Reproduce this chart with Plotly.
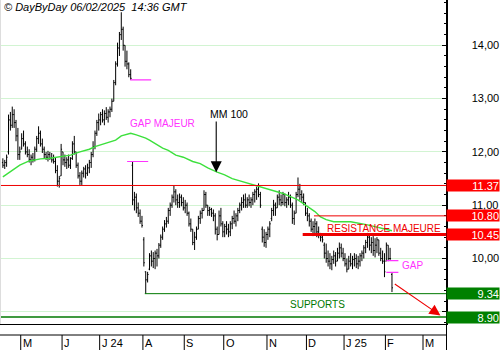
import plotly.graph_objects as go
import pandas as pd

# ---------------- data ----------------
holidays = ["2024-05-01", "2024-12-25", "2024-12-26", "2025-01-01"]
calendar = pd.bdate_range("2024-04-17", "2025-03-31")
calendar = calendar[~calendar.isin(pd.to_datetime(holidays))]

opens = [11.80, 11.75, 11.80, 12.00, 12.60, 12.50, 12.70, 12.55, 12.30, 11.95,
         12.05, 12.25, 12.15, 12.00, 11.95, 11.85, 11.90, 11.85, 12.05, 12.25,
         12.35, 12.15, 12.05, 11.95, 11.90, 11.95, 11.88, 11.85, 11.82, 11.65,
         11.45, 11.55, 12.00, 11.85, 11.80, 11.85, 11.75, 11.88, 12.15, 12.00,
         11.75, 11.55, 11.45, 11.60, 11.68, 11.60, 11.70, 11.80, 11.95, 12.10,
         12.35, 12.55, 12.60, 12.70, 12.60, 12.72, 12.65, 12.75, 12.80, 12.95,
         13.30, 13.65, 13.95, 14.20, 14.30, 14.00, 13.70, 13.65, 13.45, 11.75,
         11.10, 11.15, 10.95, 10.85, 10.70, 10.35, 9.75, 9.60, 9.80, 10.05,
         9.95, 10.00, 10.10, 10.05, 10.25, 10.40, 10.55, 10.65, 10.70, 10.90,
         11.00, 11.15, 11.25, 11.10, 11.05, 11.15, 11.05, 10.95, 11.00, 10.85,
         10.65, 10.55, 10.30, 10.40, 10.55, 10.75, 10.85, 10.90, 11.20, 11.00,
         10.90, 10.92, 10.85, 10.80, 10.55, 10.45, 10.80, 10.65, 10.50, 10.60,
         10.55, 10.50, 10.65, 10.75, 10.70, 10.80, 10.90, 11.00, 11.05, 11.10,
         11.00, 11.10, 11.05, 11.10, 11.20, 11.25, 11.30, 11.20, 10.55, 10.40,
         10.30, 10.45, 10.55, 10.75, 10.90, 11.00, 10.95, 11.15, 11.10, 11.05,
         11.20, 11.05, 11.10, 11.15, 11.00, 10.75, 10.85, 11.20, 11.30, 11.20,
         11.15, 11.05, 10.85, 10.80, 10.70, 10.55, 10.60, 10.65, 10.50, 10.45,
         10.40, 10.25, 10.10, 10.00, 9.95, 9.90, 9.98, 10.05, 9.95, 10.10,
         10.20, 10.10, 10.00, 9.90, 9.80, 9.95, 9.90, 9.98, 10.00, 9.90,
         9.95, 10.05, 10.10, 10.20, 10.30, 10.40, 10.25, 10.30, 10.15, 10.25,
         10.35, 10.10, 10.00, 9.95, 9.95, 10.25, 10.00, 9.70]
highs = [11.88, 11.85, 11.95, 12.70, 12.75, 12.85, 12.80, 12.60, 12.45, 12.10,
         12.35, 12.40, 12.20, 12.10, 12.05, 11.95, 11.98, 12.10, 12.30, 12.48,
         12.40, 12.25, 12.10, 12.00, 12.02, 12.00, 11.98, 11.95, 11.90, 11.75,
         11.55, 12.15, 12.00, 11.95, 11.90, 11.95, 11.90, 12.20, 12.30, 12.00,
         11.80, 11.62, 11.65, 11.72, 11.75, 11.78, 11.85, 12.00, 12.20, 12.40,
         12.60, 12.72, 12.75, 12.80, 12.78, 12.84, 12.80, 12.85, 13.00, 13.35,
         13.70, 14.05, 14.25, 14.62, 14.35, 14.00, 13.90, 13.68, 13.55, 11.82,
         11.25, 11.22, 11.05, 10.92, 10.80, 10.40, 9.76, 9.75, 10.10, 10.15,
         10.12, 10.15, 10.18, 10.29, 10.45, 10.60, 10.72, 10.78, 10.95, 11.05,
         11.20, 11.37, 11.30, 11.20, 11.22, 11.20, 11.15, 11.10, 11.05, 10.88,
         10.75, 10.55, 10.50, 10.60, 10.80, 10.90, 10.95, 11.28, 11.25, 11.00,
         10.97, 10.95, 10.92, 10.85, 10.60, 10.90, 10.95, 10.70, 10.65, 10.70,
         10.65, 10.70, 10.80, 10.90, 10.85, 10.95, 11.05, 11.15, 11.20, 11.22,
         11.15, 11.20, 11.15, 11.25, 11.30, 11.35, 11.41, 11.25, 10.60, 10.55,
         10.50, 10.60, 10.70, 10.95, 11.10, 11.05, 11.20, 11.28, 11.20, 11.25,
         11.22, 11.15, 11.25, 11.20, 11.05, 10.90, 11.25, 11.52, 11.40, 11.28,
         11.22, 11.05, 10.95, 10.85, 10.75, 10.70, 10.75, 10.70, 10.60, 10.48,
         10.45, 10.30, 10.28, 10.15, 10.10, 10.05, 10.15, 10.12, 10.20, 10.30,
         10.28, 10.20, 10.10, 10.00, 10.05, 10.10, 10.05, 10.10, 10.08, 10.05,
         10.10, 10.15, 10.25, 10.35, 10.48, 10.45, 10.40, 10.42, 10.38, 10.40,
         10.35, 10.20, 10.15, 10.10, 10.30, 10.25, 10.20, 9.74]
lows = [11.70, 11.68, 11.72, 11.95, 12.40, 12.45, 12.45, 12.20, 11.85, 11.85,
        12.05, 12.10, 11.95, 11.90, 11.80, 11.75, 11.80, 11.82, 12.00, 12.15,
        12.10, 11.98, 11.88, 11.85, 11.82, 11.85, 11.80, 11.78, 11.60, 11.35,
        11.33, 11.55, 11.75, 11.72, 11.68, 11.70, 11.68, 11.85, 11.95, 11.70,
        11.50, 11.38, 11.38, 11.52, 11.50, 11.55, 11.60, 11.70, 11.90, 12.05,
        12.30, 12.40, 12.50, 12.55, 12.50, 12.60, 12.55, 12.65, 12.75, 12.95,
        13.25, 13.60, 13.80, 14.10, 13.90, 13.60, 13.55, 13.40, 13.35, 11.00,
        10.90, 10.85, 10.78, 10.65, 10.58, 9.85, 9.34, 9.55, 9.78, 9.85,
        9.82, 9.80, 9.85, 10.00, 10.20, 10.35, 10.50, 10.58, 10.65, 10.80,
        10.95, 11.05, 11.00, 10.95, 10.95, 10.98, 10.90, 10.85, 10.80, 10.60,
        10.50, 10.25, 10.16, 10.35, 10.55, 10.65, 10.75, 10.90, 10.95, 10.80,
        10.80, 10.78, 10.70, 10.45, 10.34, 10.45, 10.60, 10.40, 10.40, 10.45,
        10.40, 10.42, 10.55, 10.65, 10.60, 10.70, 10.85, 10.90, 10.95, 10.95,
        10.95, 10.98, 10.95, 11.00, 11.05, 11.10, 11.15, 10.95, 10.30, 10.22,
        10.20, 10.35, 10.40, 10.70, 10.80, 10.80, 10.95, 11.00, 10.98, 11.00,
        10.98, 10.95, 11.00, 10.95, 10.65, 10.63, 10.85, 11.15, 11.10, 11.05,
        11.00, 10.80, 10.70, 10.60, 10.50, 10.42, 10.45, 10.40, 10.38, 10.32,
        10.30, 10.00, 9.92, 9.85, 9.80, 9.78, 9.90, 9.85, 9.95, 10.00,
        10.02, 9.95, 9.85, 9.74, 9.80, 9.85, 9.80, 9.85, 9.82, 9.80,
        9.85, 9.95, 10.00, 10.10, 10.20, 10.15, 10.10, 10.05, 10.02, 10.10,
        10.05, 9.95, 9.90, 9.65, 9.95, 9.95, 9.96, 9.37]
closes = [11.75, 11.80, 11.90, 12.60, 12.50, 12.70, 12.55, 12.30, 11.95, 12.00,
          12.25, 12.15, 12.00, 11.95, 11.85, 11.90, 11.85, 12.05, 12.25, 12.35,
          12.15, 12.05, 11.95, 11.90, 11.95, 11.88, 11.85, 11.82, 11.65, 11.45,
          11.50, 12.05, 11.85, 11.80, 11.85, 11.75, 11.88, 12.15, 12.00, 11.75,
          11.55, 11.45, 11.60, 11.68, 11.60, 11.70, 11.80, 11.95, 12.10, 12.35,
          12.55, 12.60, 12.70, 12.60, 12.72, 12.65, 12.75, 12.80, 12.95, 13.30,
          13.65, 13.95, 14.20, 14.30, 14.00, 13.70, 13.65, 13.45, 13.38, 11.10,
          11.15, 10.95, 10.85, 10.70, 10.62, 9.92, 9.60, 9.70, 10.05, 9.95,
          10.00, 10.10, 10.05, 10.25, 10.40, 10.55, 10.65, 10.70, 10.90, 11.00,
          11.15, 11.25, 11.10, 11.05, 11.15, 11.05, 10.95, 11.00, 10.85, 10.65,
          10.55, 10.30, 10.40, 10.55, 10.75, 10.85, 10.90, 11.20, 11.00, 10.90,
          10.92, 10.85, 10.80, 10.55, 10.45, 10.80, 10.65, 10.50, 10.60, 10.55,
          10.50, 10.65, 10.75, 10.70, 10.80, 10.90, 11.00, 11.05, 11.10, 11.00,
          11.10, 11.05, 11.10, 11.20, 11.25, 11.30, 11.20, 11.00, 10.40, 10.30,
          10.45, 10.55, 10.65, 10.90, 11.00, 10.95, 11.15, 11.10, 11.05, 11.20,
          11.05, 11.10, 11.15, 11.00, 10.75, 10.85, 11.20, 11.30, 11.20, 11.15,
          11.05, 10.85, 10.80, 10.70, 10.55, 10.60, 10.65, 10.50, 10.45, 10.40,
          10.35, 10.10, 10.00, 9.95, 9.90, 9.98, 10.05, 9.95, 10.10, 10.20,
          10.10, 10.00, 9.90, 9.80, 9.95, 9.90, 9.98, 10.00, 9.90, 9.95,
          10.05, 10.10, 10.20, 10.30, 10.40, 10.25, 10.30, 10.15, 10.25, 10.35,
          10.10, 10.00, 9.95, 9.75, 10.25, 10.00, 10.00, 9.45]

# moving average (MM 100) read at selected bars
ma_idx = [0, 4, 9, 14, 20, 25, 30, 36, 41, 46, 49, 55, 60, 63, 68, 71, 76, 78,
          85, 88, 92, 96, 101, 105, 109, 114, 118, 122, 130, 135, 140, 149,
          157, 163, 166, 169, 172, 176, 185, 194, 201, 205, 207]
ma_val = [11.53, 11.63, 11.75, 11.83, 11.87, 11.88, 11.91, 11.94, 12.00, 12.05,
          12.10, 12.16, 12.22, 12.30, 12.35, 12.32, 12.26, 12.22, 12.07, 12.03,
          11.94, 11.90, 11.82, 11.78, 11.70, 11.62, 11.57, 11.50, 11.42, 11.37,
          11.32, 11.22, 11.10, 10.96, 10.88, 10.78, 10.73, 10.69, 10.69, 10.63,
          10.57, 10.53, 10.52]

month_labels = ["M", "J", "J 24", "A", "S", "O", "N", "D", "J 25", "F", "M"]
y_tickvals = [9, 10, 11, 12, 13, 14]
y_ticktext = ["", "10,00", "11,00", "12,00", "13,00", "14,00"]

# levels: value, color, start bar (None = whole width), line width
level_vals = [11.37, 10.80, 10.45, 9.34, 8.90]
level_cols = ["#ee0000", "#ee0000", "#ee0000", "#007800", "#007800"]
level_start = [None, 166, 160, 76, None]
level_width = [1, 1, 3, 1, 1.5]
level_text = ["11.37", "10.80", "10.45", "9.34", "8.90"]

# gap markers (value, start bar, end bar)
gap_vals = [13.35, 11.82, 9.96, 9.74]
gap_from = [67.7, 66.1, 204.0, 204.0]
gap_to = [78.9, 77.3, 210.4, 210.4]

title = "© DayByDay 06/02/2025  14:36 GMT"

# ---------------- figure ----------------
FONT = "Liberation Sans, Arial, sans-serif"
X_RANGE = [-1.52, 236.0]
Y_RANGE = [8.771, 14.85]
XDOM = 446.5 / 500
YBOT = 26 / 350
STRIP = 15 / 350

n = len(closes)
idx = list(range(n))

fig = go.Figure()
fig.add_trace(go.Ohlc(
    x=idx, open=opens, high=highs, low=lows, close=closes,
    increasing=dict(line=dict(color="black", width=1)),
    decreasing=dict(line=dict(color="black", width=1)),
    tickwidth=0.5, hoverinfo="skip", showlegend=False))
fig.add_trace(go.Scatter(
    x=ma_idx, y=ma_val, mode="lines",
    line=dict(color="#3de03d", width=1.4), hoverinfo="skip", showlegend=False))

shapes = []
annotations = []

# level lines and value boxes
for v, c, s, w, t in zip(level_vals, level_cols, level_start, level_width, level_text):
    if s is None:
        shapes.append(dict(type="line", xref="x domain", yref="y", x0=0, x1=1,
                           y0=v, y1=v, line=dict(color=c, width=w), layer="above"))
    else:
        shapes.append(dict(type="line", xref="x", yref="y", x0=s - 0.5, x1=X_RANGE[1],
                           y0=v, y1=v, line=dict(color=c, width=w), layer="above"))
    annotations.append(dict(x=1, xref="paper", y=v, yref="y", xanchor="right",
                            yanchor="middle", text=t, showarrow=False,
                            bgcolor="#ff0000" if c == "#ee0000" else "#008000",
                            font=dict(family=FONT, size=11, color="white"),
                            width=52, height=11, align="right", borderpad=0))

# gap markers
for v, a, b in zip(gap_vals, gap_from, gap_to):
    shapes.append(dict(type="line", xref="x", yref="y", x0=a, x1=b, y0=v, y1=v,
                       line=dict(color="#ff33ff", width=1.2), layer="above"))

# bottom strip lines and right border
shapes.append(dict(type="line", xref="paper", yref="paper", x0=0, x1=XDOM,
                   y0=STRIP, y1=STRIP, line=dict(color="black", width=1)))
shapes.append(dict(type="line", xref="paper", yref="paper", x0=XDOM, x1=XDOM,
                   y0=0, y1=1, line=dict(color="black", width=1)))
shapes.append(dict(type="line", xref="paper", yref="paper", x0=0.001, x1=0.001,
                   y0=YBOT, y1=1, line=dict(color="#dddddd", width=1)))

# month separators and labels
months = calendar.to_period("M")
seps = [i - 0.5 for i in range(1, len(calendar)) if months[i] != months[i - 1]]
for s, lab in zip(seps, month_labels):
    shapes.append(dict(type="line", xref="x", yref="paper", x0=s, x1=s,
                       y0=0, y1=STRIP, line=dict(color="black", width=1)))
    annotations.append(dict(x=s, xref="x", y=7 / 350, yref="paper", text=lab,
                            showarrow=False, xanchor="left", yanchor="middle",
                            xshift=0, font=dict(family=FONT, size=11, color="black")))

# texts
annotations += [
    dict(x=2 / 500, xref="paper", y=1 - 7 / 350, yref="paper", text="<i>" + title + "</i>",
         showarrow=False, xanchor="left", yanchor="middle",
         font=dict(family=FONT, size=11, color="black")),
    dict(x=109.2, y=12.71, text="MM 100", showarrow=False, xanchor="left",
         yanchor="middle", font=dict(family=FONT, size=10.5, color="black")),
    dict(x=113.5, y=11.62, ax=113.5, ay=12.60, axref="x", ayref="y", text="",
         showarrow=True, arrowhead=2, arrowsize=2, arrowwidth=1.1, arrowcolor="black"),
    dict(x=66.6, y=12.54, text="GAP MAJEUR", showarrow=False, xanchor="left",
         yanchor="middle", font=dict(family=FONT, size=10, color="#ff33ff")),
    dict(x=171.5, y=10.57, text="RESISTANCE MAJEURE", showarrow=False, xanchor="left",
         yanchor="middle", font=dict(family=FONT, size=10, color="#ee0000")),
    dict(x=211.0, y=9.86, text="GAP", showarrow=False, xanchor="left",
         yanchor="middle", font=dict(family=FONT, size=10, color="#ff33ff")),
    dict(x=151.8, y=9.13, text="SUPPORTS", showarrow=False, xanchor="left",
         yanchor="middle", font=dict(family=FONT, size=10, color="#007800")),
    dict(x=232.8, y=8.93, ax=207.7, ay=9.54, axref="x", ayref="y", text="",
         showarrow=True, arrowhead=2, arrowsize=2, arrowwidth=1.1, arrowcolor="#ee0000"),
]

fig.update_layout(
    width=500, height=350, margin=dict(l=0, r=0, t=0, b=0),
    paper_bgcolor="white", plot_bgcolor="white",
    showlegend=False, shapes=shapes, annotations=annotations,
    xaxis=dict(domain=[0, XDOM], range=X_RANGE, showgrid=False, zeroline=False,
               showticklabels=False, ticks="", showline=True, linecolor="black",
               linewidth=1, rangeslider=dict(visible=False), fixedrange=True),
    yaxis=dict(domain=[YBOT, 1], range=Y_RANGE, side="right", showgrid=True,
               gridcolor="#d2f4d2", gridwidth=1, zeroline=False,
               tickmode="array", tickvals=y_tickvals, ticktext=y_ticktext,
               ticks="inside", ticklen=5, tickcolor="black", showline=True,
               linecolor="black", linewidth=1, ticklabelstandoff=22,
               tickfont=dict(family=FONT, size=11, color="black"),
               minor=dict(tickmode="linear", tick0=9, dtick=0.2, ticks="inside",
                          ticklen=3, tickcolor="black", showgrid=False),
               fixedrange=True),
)

fig.write_html("out.html")
